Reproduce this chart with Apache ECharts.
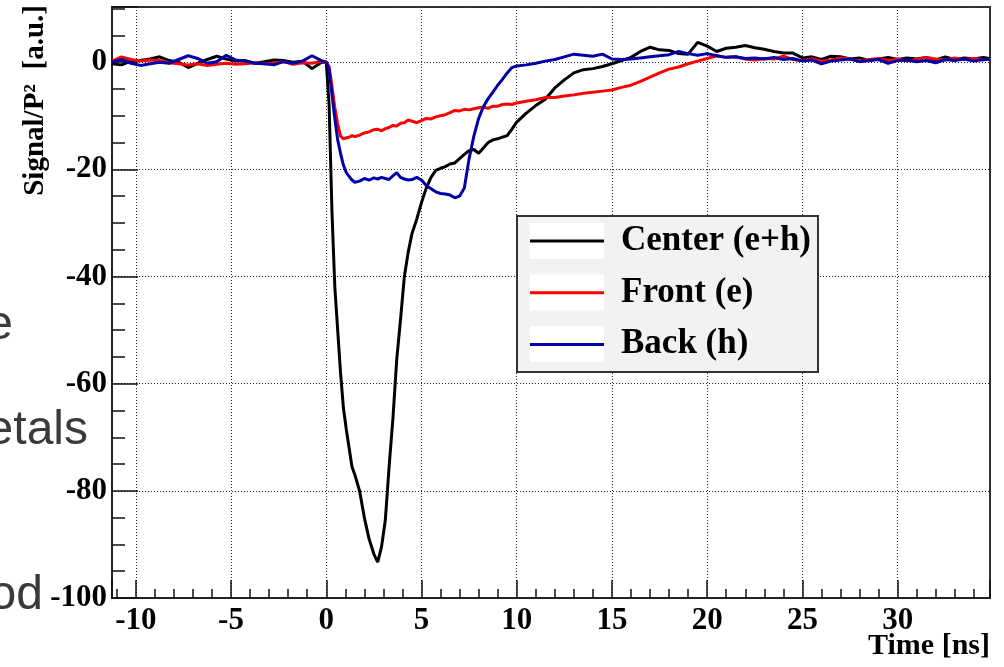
<!DOCTYPE html>
<html>
<head>
<meta charset="utf-8">
<script src="https://cdn.jsdelivr.net/npm/echarts@6/dist/echarts.min.js"></script>
<style>html,body{margin:0;padding:0;background:#fff;}#c{width:1004px;height:667px;}</style>
</head>
<body>
<div id="c"></div>
<script>
// Time axis samples [ns]
const time = [-11.25,-10.75,-10.25,-9.75,-9.25,-8.75,-8.25,-7.75,-7.25,-6.75,-6.25,-5.75,-5.25,-4.75,-4.25,-3.75,-3.25,-2.75,-2.25,-1.75,-1.25,-0.75,-0.25,0,
  0.15,0.3,0.45,0.6,0.75,0.9,1.05,1.2,1.35,1.5,
  1.75,2.0,2.25,2.5,2.7,2.9,3.1,3.3,3.5,3.7,3.9,4.1,4.3,4.5,
  4.75,5.0,5.25,5.5,5.75,6.0,6.25,6.5,6.75,7.0,7.25,7.5,7.75,8.0,8.25,8.5,8.75,9.0,9.25,9.5,9.75,10.0,
  10.5,11,11.5,12,12.5,13,13.5,14,14.5,15,15.5,16,16.5,17,17.5,18,18.5,19,19.5,20,
  20.5,21,21.5,22,22.5,23,23.5,24,24.5,25,25.5,26,26.5,27,27.5,28,28.5,29,29.5,30,
  30.5,31,31.5,32,32.5,33,33.5,34,34.5,34.8];

const centerEH = [-0.3,-0.5,0.2,0.3,0.6,1.0,0.3,0.0,-1.0,-0.2,0.5,1.1,0.6,0.2,0.3,-0.2,0.1,0.4,0.3,0.0,0.2,-1.2,0.0,0.0,
  -8,-28,-42,-50,-58,-64.5,-68.5,-72,-75.5,-77,
  -80,-85,-89,-91.8,-93.3,-90.5,-85.5,-75.5,-66.5,-55.5,-48,-40,-35.5,-32,
  -29.3,-26.2,-23.5,-21.5,-20.2,-19.8,-19.5,-19.0,-18.8,-18.0,-17.2,-16.5,-16.3,-17.0,-16.0,-15.0,-14.5,-14.3,-14.0,-13.7,-12.5,-11.2,
  -9.5,-8.1,-6.9,-4.8,-3.3,-2.0,-1.4,-1.2,-0.8,-0.3,0.3,0.9,2.0,2.8,2.3,2.2,1.6,1.5,3.7,3.0,
  2.0,2.6,2.8,3.1,2.7,2.4,2.0,1.7,1.7,0.8,1.0,0.5,1.1,1.0,0.6,0.8,0.3,0.6,0.9,0.5,
  0.8,0.6,0.9,0.4,1.0,0.5,0.8,0.6,0.9,0.7];

const frontE = [0.2,1.0,0.5,0.2,0.4,0.3,-0.1,-0.3,-0.5,-0.3,-0.6,-0.4,-0.2,-0.4,-0.3,-0.1,-0.3,-0.2,0.1,-0.4,-0.1,-0.2,0.2,0.0,
  -0.8,-4.5,-8.5,-11.5,-13.8,-14.3,-14.1,-14.0,-13.7,-13.9,
  -13.6,-13.2,-13.0,-12.6,-12.5,-12.8,-12.4,-12.2,-11.8,-11.9,-11.4,-11.3,-10.8,-11.0,
  -11.3,-10.9,-10.5,-10.6,-10.2,-10.0,-9.8,-9.4,-9.0,-9.1,-8.8,-8.9,-8.7,-8.5,-8.4,-8.6,-8.2,-8.2,-7.9,-7.8,-7.9,-7.6,
  -7.3,-7.0,-6.6,-6.6,-6.3,-6.1,-5.8,-5.6,-5.4,-5.2,-4.7,-4.3,-3.6,-2.8,-2.0,-1.3,-0.9,-0.3,0.2,0.7,
  1.2,0.9,1.0,0.6,0.4,0.7,0.6,1.1,0.5,0.3,0.6,0.2,0.4,0.8,0.6,0.2,0.5,0.7,0.3,0.6,
  0.2,0.5,0.9,0.6,0.4,0.8,0.5,0.7,0.4,0.6];

const backH = [0.0,0.5,-0.2,-0.6,-0.3,0.0,-0.2,0.5,1.2,0.7,-0.2,0.1,1.3,0.4,0.2,-0.2,-0.3,-0.5,0.1,-0.2,0.2,1.2,0.3,0.0,
  -1.5,-6,-10.5,-14.5,-17,-19.2,-20.6,-21.3,-22.0,-22.4,
  -22.2,-21.7,-22.0,-21.6,-21.8,-21.5,-21.7,-21.9,-21.2,-20.6,-21.5,-21.8,-22.0,-21.9,
  -21.5,-22.0,-23.0,-23.6,-24.2,-24.5,-24.6,-24.8,-25.3,-25.0,-23.5,-18.0,-13.8,-10.5,-8.3,-6.8,-5.6,-4.3,-3.2,-2.0,-1.0,-0.7,
  -0.5,-0.2,0.2,0.5,1.0,1.5,1.3,1.1,1.5,0.6,0.5,0.6,0.8,1.0,1.2,1.4,2.0,1.6,1.3,1.6,
  1.2,0.9,1.0,0.7,0.8,0.6,0.9,0.5,0.7,0.2,0.4,-0.3,0.2,0.4,0.6,0.1,0.3,0.5,-0.2,0.3,
  0.4,0.1,0.3,-0.1,0.5,0.3,0.6,0.2,0.5,0.5];

const seriesNames = ['Center (e+h)', 'Front (e)', 'Back (h)'];
const seriesColors = ['#000000', '#ff0000', '#0000a8'];
const seriesValues = [centerEH, frontE, backH];

const xRange = [-11.25, 34.85];
const yRange = [-100, 10.3];

const serif = 'Liberation Serif';
const chart = echarts.init(document.getElementById('c'), null, {renderer: 'canvas'});

const zip = (vals) => time.map((t, i) => [t, vals[i]]);
const labelFmt = (step) => (v) => (Math.abs(v % step) < 1e-9 ? String(v) : '');
const tickStyle = {color: '#111', width: 1.5};

const option = {
  animation: false,
  backgroundColor: '#ffffff',
  grid: {left: 112, right: 14, top: 7, bottom: 69, show: true, borderColor: '#333', borderWidth: 2, backgroundColor: '#fff'},
  xAxis: [
    {type: 'value', min: xRange[0], max: xRange[1], splitNumber: 9, minInterval: 5, maxInterval: 5, position: 'bottom',
     axisLine: {onZero: false, lineStyle: {color: '#222', width: 2}},
     axisTick: {inside: true, length: 18, lineStyle: tickStyle},
     axisLabel: {formatter: labelFmt(5), margin: 7, fontFamily: serif, fontWeight: 'bold', fontSize: 31, color: '#000'},
     splitLine: {show: true, lineStyle: {color: '#222', width: 1, type: [1, 2]}}},
    {type: 'value', min: xRange[0], max: xRange[1], splitNumber: 46, minInterval: 1, maxInterval: 1, position: 'bottom', offset: 0,
     axisLine: {show: false, onZero: false},
     axisTick: {inside: true, length: 9, lineStyle: tickStyle},
     axisLabel: {show: false}, splitLine: {show: false}}
  ],
  yAxis: [
    {type: 'value', min: yRange[0], max: yRange[1], splitNumber: 5, minInterval: 20, maxInterval: 20, position: 'left',
     axisLine: {onZero: false, lineStyle: {color: '#222', width: 2}},
     axisTick: {inside: true, length: 26, lineStyle: tickStyle},
     axisLabel: {formatter: labelFmt(20), margin: 5, fontFamily: serif, fontWeight: 'bold', fontSize: 31, color: '#000'},
     splitLine: {show: true, lineStyle: {color: '#222', width: 1, type: [1, 2]}}},
    {type: 'value', min: yRange[0], max: yRange[1], splitNumber: 22, minInterval: 5, maxInterval: 5, position: 'left', offset: 0,
     axisLine: {show: false, onZero: false},
     axisTick: {inside: true, length: 13, lineStyle: tickStyle},
     axisLabel: {show: false}, splitLine: {show: false}}
  ],
  legend: {
    orient: 'vertical', left: 530, top: 223, padding: 0, itemGap: 15.7,
    itemWidth: 74, itemHeight: 3, icon: 'rect', selectedMode: false,
    data: seriesNames,
    textStyle: {fontFamily: serif, fontWeight: 'bold', fontSize: 35, color: '#000', lineHeight: 36, padding: [0, 0, 0, 12]}
  },
  series: seriesNames.map((n, i) => ({
    name: n, type: 'line', xAxisIndex: 0, yAxisIndex: 0,
    data: zip(seriesValues[i]), showSymbol: false, symbol: 'none',
    itemStyle: {color: seriesColors[i]},
    lineStyle: {color: seriesColors[i], width: 3},
    z: 2 + i * 0.1
  })),
  graphic: [
    {type: 'rect', z: 3, z2: 0, shape: {x: 517, y: 216, width: 301, height: 156},
     style: {fill: '#f2f2f2', stroke: '#333', lineWidth: 2}},
    {type: 'rect', z: 3, z2: 1, shape: {x: 530, y: 223, width: 74, height: 36}, style: {fill: '#fff'}},
    {type: 'rect', z: 3, z2: 1, shape: {x: 530, y: 274.5, width: 74, height: 36}, style: {fill: '#fff'}},
    {type: 'rect', z: 3, z2: 1, shape: {x: 530, y: 326, width: 74, height: 36}, style: {fill: '#fff'}},
    {type: 'text', x: 36, y: 5, rotation: Math.PI / 2,
     style: {text: 'Signal/P\u00B2  [a.u.]', fontFamily: serif, fontWeight: 'bold', fontSize: 29, fill: '#000', align: 'right', verticalAlign: 'middle'}},
    {type: 'text', x: 990, y: 631,
     style: {text: 'Time [ns]', fontFamily: serif, fontWeight: 'bold', fontSize: 30, fill: '#000', align: 'right', verticalAlign: 'top'}},
    {type: 'text', x: 13, y: 326, style: {text: 'e', fontFamily: 'Liberation Sans', fontSize: 48, fill: '#3a3a3a', align: 'right', verticalAlign: 'middle'}},
    {type: 'text', x: 88, y: 431, style: {text: 'metals', fontFamily: 'Liberation Sans', fontSize: 48, fill: '#3a3a3a', align: 'right', verticalAlign: 'middle'}},
    {type: 'text', x: 43, y: 596, style: {text: 'od', fontFamily: 'Liberation Sans', fontSize: 48, fill: '#3a3a3a', align: 'right', verticalAlign: 'middle'}}
  ]
};
chart.setOption(option);
</script>
</body>
</html>
